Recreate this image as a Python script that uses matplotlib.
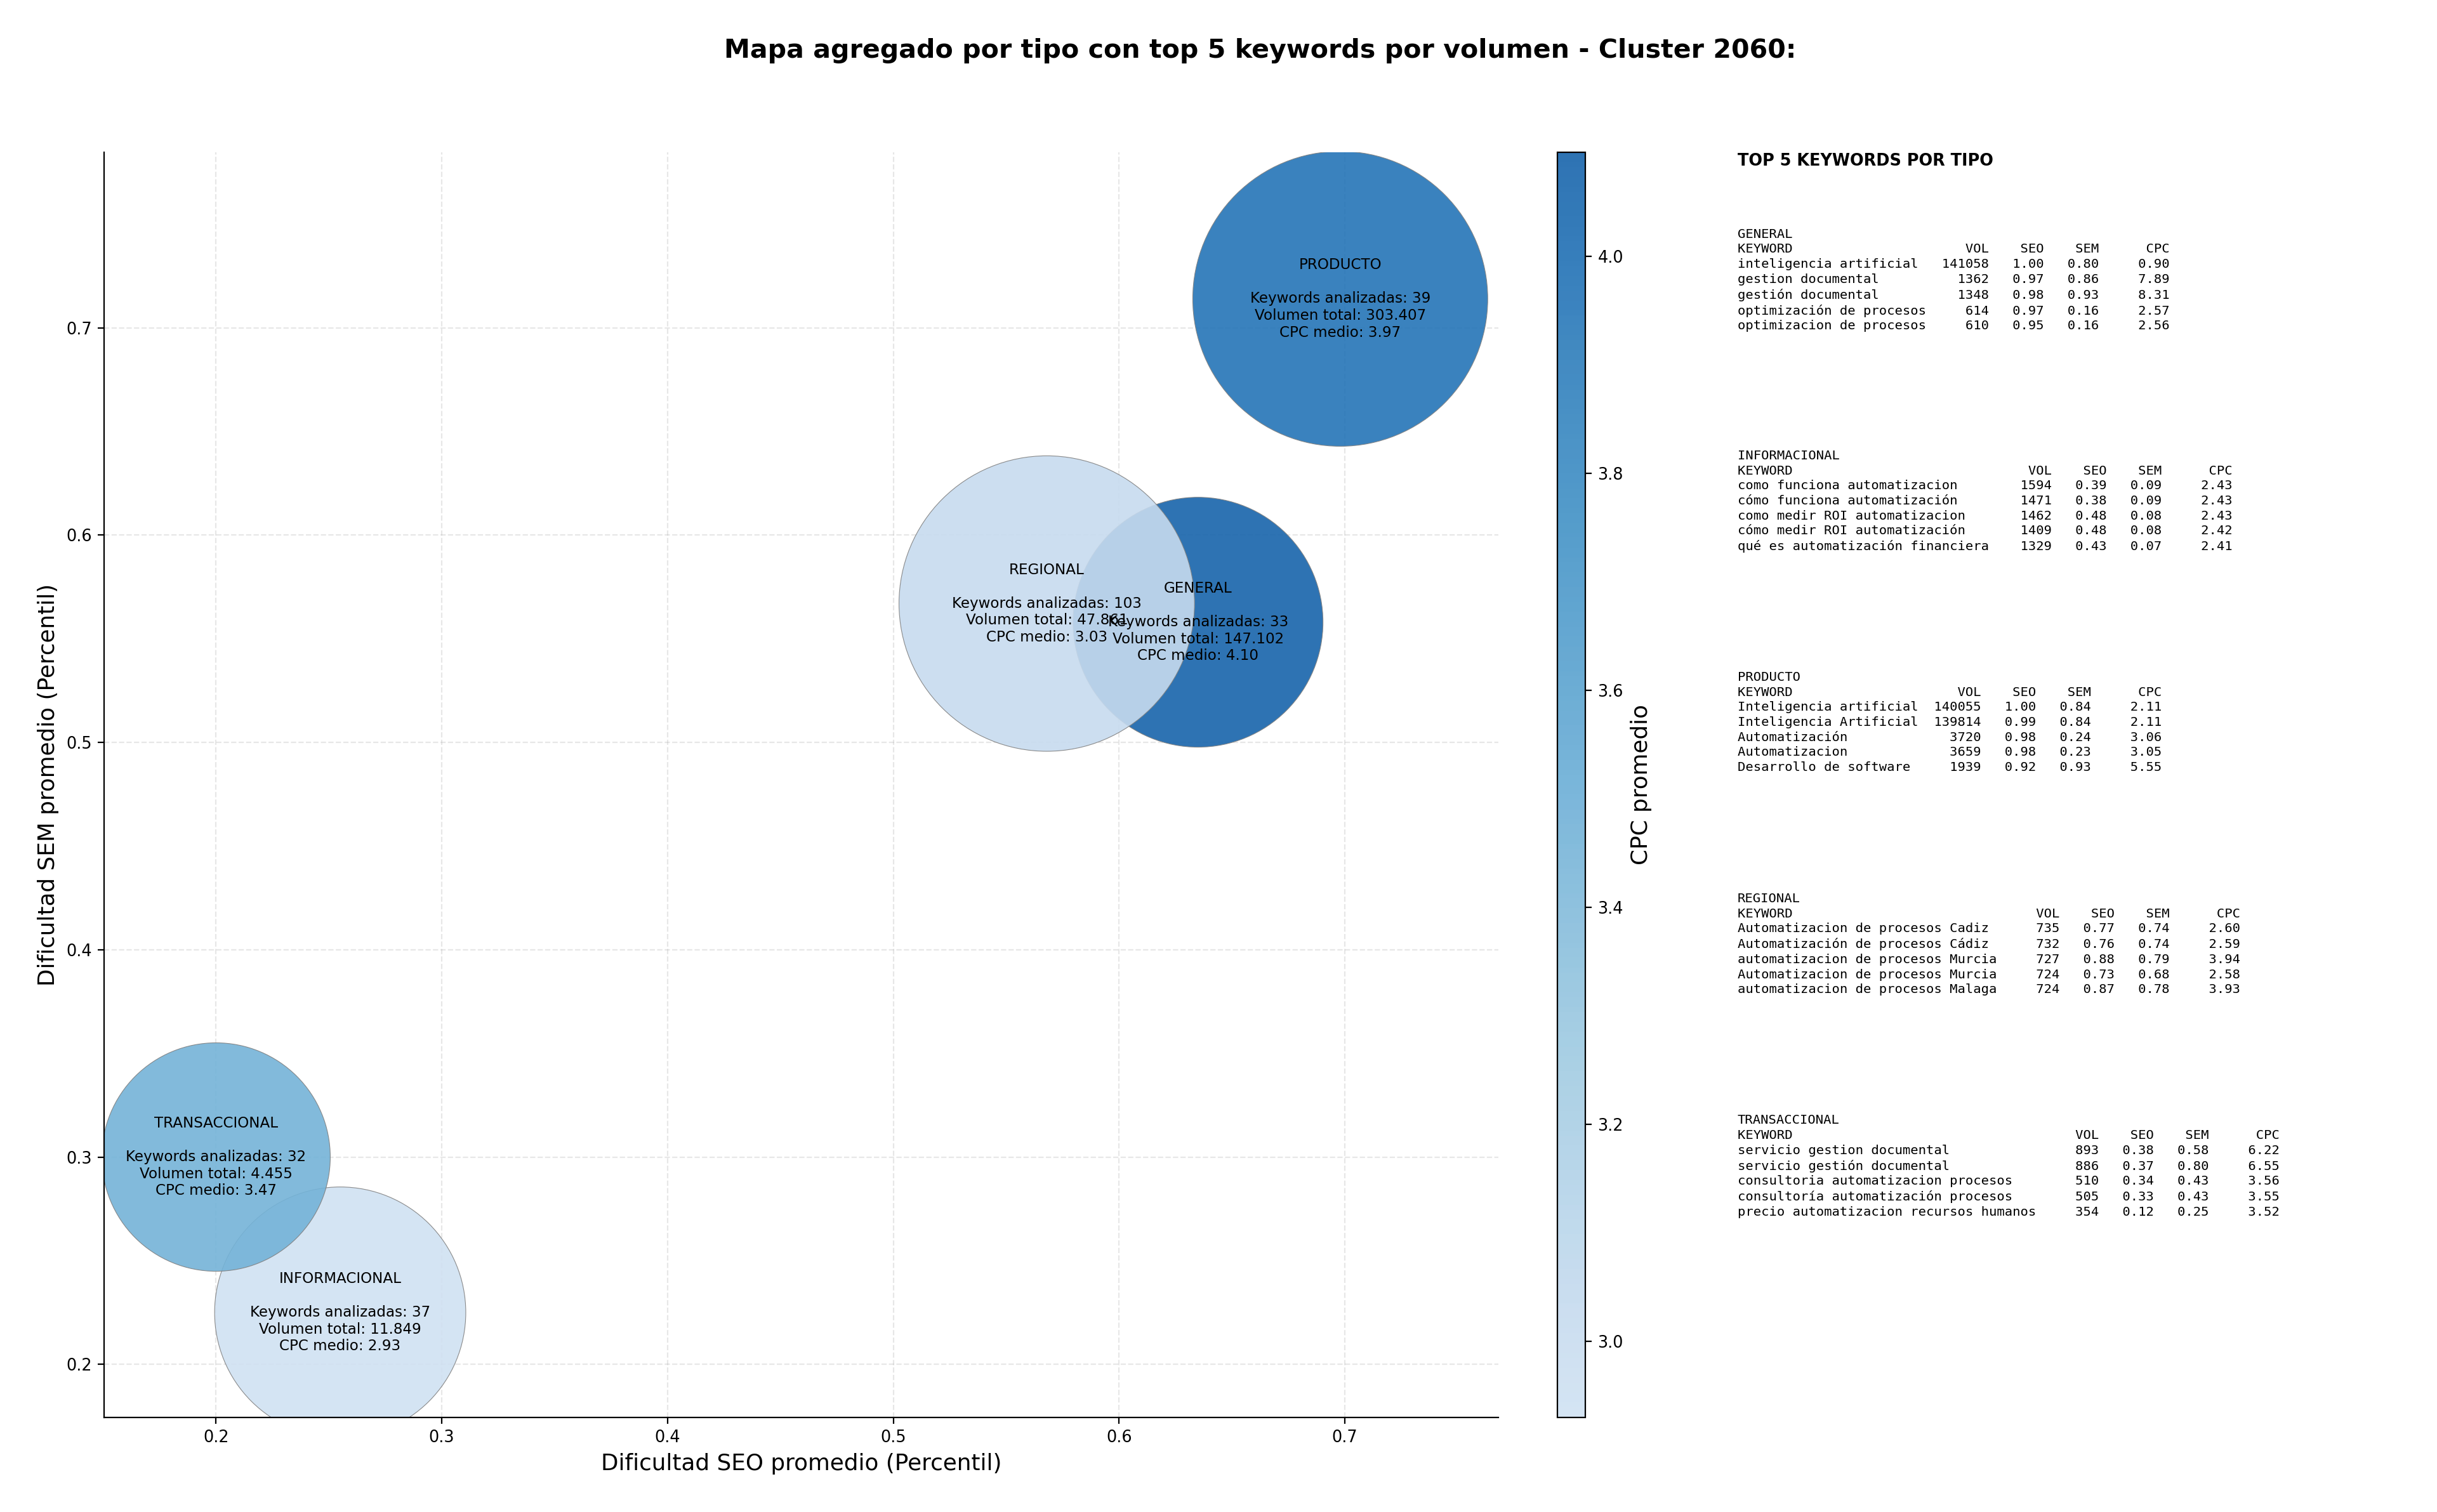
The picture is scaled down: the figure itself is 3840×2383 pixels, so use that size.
#mapa de burbujas agregado por tipo + tabla de top keywords
import matplotlib
matplotlib.use('Agg')
import matplotlib.pyplot as plt
from matplotlib.colors import LinearSegmentedColormap, Normalize
import numpy as np

#datos agregados por tipo
tipos = ['GENERAL', 'INFORMACIONAL', 'PRODUCTO', 'REGIONAL', 'TRANSACCIONAL']
seo_medio = [0.635, 0.255, 0.698, 0.568, 0.200]
sem_medio = [0.558, 0.225, 0.714, 0.567, 0.300]
n_keywords = [33, 37, 39, 103, 32]
volumen_total = [147102, 11849, 303407, 47861, 4455]
cpc_medio = [4.096, 2.93, 3.97, 3.03, 3.47]
tam_burbuja = [20100, 20300, 28000, 28100, 16800]

#top 5 keywords por tipo: (keyword, vol, seo, sem, cpc)
top_general = [
    ('inteligencia artificial', 141058, 1.00, 0.80, 0.90),
    ('gestion documental', 1362, 0.97, 0.86, 7.89),
    ('gestión documental', 1348, 0.98, 0.93, 8.31),
    ('optimización de procesos', 614, 0.97, 0.16, 2.57),
    ('optimizacion de procesos', 610, 0.95, 0.16, 2.56),
]
top_informacional = [
    ('como funciona automatizacion', 1594, 0.39, 0.09, 2.43),
    ('cómo funciona automatización', 1471, 0.38, 0.09, 2.43),
    ('como medir ROI automatizacion', 1462, 0.48, 0.08, 2.43),
    ('cómo medir ROI automatización', 1409, 0.48, 0.08, 2.42),
    ('qué es automatización financiera', 1329, 0.43, 0.07, 2.41),
]
top_producto = [
    ('Inteligencia artificial', 140055, 1.00, 0.84, 2.11),
    ('Inteligencia Artificial', 139814, 0.99, 0.84, 2.11),
    ('Automatización', 3720, 0.98, 0.24, 3.06),
    ('Automatizacion', 3659, 0.98, 0.23, 3.05),
    ('Desarrollo de software', 1939, 0.92, 0.93, 5.55),
]
top_regional = [
    ('Automatizacion de procesos Cadiz', 735, 0.77, 0.74, 2.60),
    ('Automatización de procesos Cádiz', 732, 0.76, 0.74, 2.59),
    ('automatizacion de procesos Murcia', 727, 0.88, 0.79, 3.94),
    ('Automatizacion de procesos Murcia', 724, 0.73, 0.68, 2.58),
    ('automatizacion de procesos Malaga', 724, 0.87, 0.78, 3.93),
]
top_transaccional = [
    ('servicio gestion documental', 893, 0.38, 0.58, 6.22),
    ('servicio gestión documental', 886, 0.37, 0.80, 6.55),
    ('consultoria automatizacion procesos', 510, 0.34, 0.43, 3.56),
    ('consultoría automatización procesos', 505, 0.33, 0.43, 3.55),
    ('precio automatizacion recursos humanos', 354, 0.12, 0.25, 3.52),
]
tops = [top_general, top_informacional, top_producto, top_regional, top_transaccional]


def fmt_miles(v):
    return f"{v:,}".replace(',', '.')


def tabla_texto(tipo, filas):
    w = max(len(f[0]) for f in filas)
    lineas = [tipo, f"{'KEYWORD':<{w}}  {'VOL':>6}{'SEO':>7}{'SEM':>7}{'CPC':>9}"]
    for kw, vol, seo, sem, cpc in filas:
        lineas.append(f"{kw:<{w}}  {vol:>6}{seo:>7.2f}{sem:>7.2f}{cpc:>9.2f}")
    return '\n'.join(lineas)


plt.rcParams['xtick.labelsize'] = 9.2
plt.rcParams['ytick.labelsize'] = 9.2

fig = plt.figure(figsize=(19.2, 11.915), dpi=200)

#colormap Blues recortado
base = plt.get_cmap('Blues')
cmap = LinearSegmentedColormap.from_list('blues_trunc', base(np.linspace(0.2, 0.8, 256)))
norm = Normalize(vmin=min(cpc_medio), vmax=max(cpc_medio))

ax = fig.add_axes([0.0427, 0.0627, 0.5721, 0.8366])
ax.grid(True, linestyle='--', alpha=0.3, zorder=0)
sc = ax.scatter(seo_medio, sem_medio, s=tam_burbuja, c=cpc_medio, cmap=cmap, norm=norm,
                alpha=0.9, edgecolors='gray', linewidths=0.4, zorder=2)

for i, tipo in enumerate(tipos):
    etiqueta = (f"{tipo}\n\nKeywords analizadas: {n_keywords[i]}\n"
                f"Volumen total: {fmt_miles(volumen_total[i])}\nCPC medio: {cpc_medio[i]:.2f}")
    ax.text(seo_medio[i], sem_medio[i], etiqueta, ha='center', va='center', fontsize=8.3, zorder=3)

ax.set_xlim(0.1504, 0.768)
ax.set_ylim(0.1745, 0.7847)
ax.set_xlabel('Dificultad SEO promedio (Percentil)', fontsize=12.9)
ax.set_ylabel('Dificultad SEM promedio (Percentil)', fontsize=12.9)
ax.spines['top'].set_visible(False)
ax.spines['right'].set_visible(False)

cax = fig.add_axes([0.639, 0.0627, 0.0115, 0.8366])
cb = fig.colorbar(sc, cax=cax)
cb.set_label('CPC promedio', fontsize=12.9)

fig.suptitle('Mapa agregado por tipo con top 5 keywords por volumen - Cluster 2060:',
             fontsize=14.8, fontweight='bold', x=0.517, y=0.975)

#panel de texto a la derecha
fig.text(0.713, 0.899, 'TOP 5 KEYWORDS POR TIPO', fontsize=9.2, fontweight='bold', va='top')
for i, tipo in enumerate(tipos):
    fig.text(0.713, 0.849 - i * 0.1465, tabla_texto(tipo, tops[i]),
             fontsize=7.36, family='DejaVu Sans Mono', va='top', linespacing=1.31)

fig.savefig('out.png', dpi=200)
